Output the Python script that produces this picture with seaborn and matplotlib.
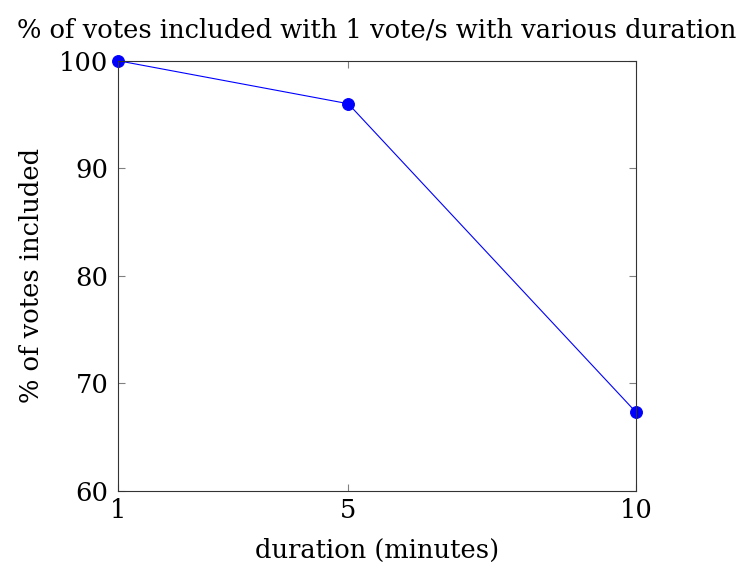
import matplotlib
matplotlib.use('Agg')
import matplotlib.pyplot as plt
import pandas as pd
import seaborn as sns

durations = [1, 5, 10]
pct_included = [100.0, 96.0, 67.3]
x_ticks = [1, 5, 10]
y_ticks = [60, 70, 80, 90, 100]

sns.set_style('ticks')
plt.rcParams['font.family'] = ['DejaVu Serif']
plt.rcParams['mathtext.fontset'] = 'dejavuserif'
plt.rcParams['text.color'] = 'black'
plt.rcParams['axes.labelcolor'] = 'black'

df = pd.DataFrame({'duration': durations, 'pct': pct_included})

fig = plt.figure(figsize=(7.4, 5.68), dpi=100)
ax = fig.add_axes([0.1595, 0.1361, 0.7, 0.757])
sns.lineplot(data=df, x='duration', y='pct', ax=ax, color='blue', linewidth=0.8,
             marker='o', markersize=8.5, markeredgecolor='blue', clip_on=False)

fs = 18.5
ax.set_xlim(1, 10)
ax.set_ylim(60, 100)
ax.set_xticks(x_ticks)
ax.set_yticks(y_ticks)
ax.tick_params(direction='in', length=5, width=0.8, color='#808080', labelsize=fs,
               top=True, right=True, labelcolor='black')
ax.tick_params(axis='y', pad=7)
ax.tick_params(axis='x', pad=5)
for s in ax.spines.values():
    s.set_visible(True)
    s.set_color('#333333')
    s.set_linewidth(0.8)
ax.set_xlabel('duration (minutes)', fontsize=fs, labelpad=11)
ax.set_ylabel('% of votes included', fontsize=fs, labelpad=11)
ax.set_title('% of votes included with 1 vote/s with various duration', fontsize=fs, pad=17)

fig.savefig('out.png', dpi=100)
